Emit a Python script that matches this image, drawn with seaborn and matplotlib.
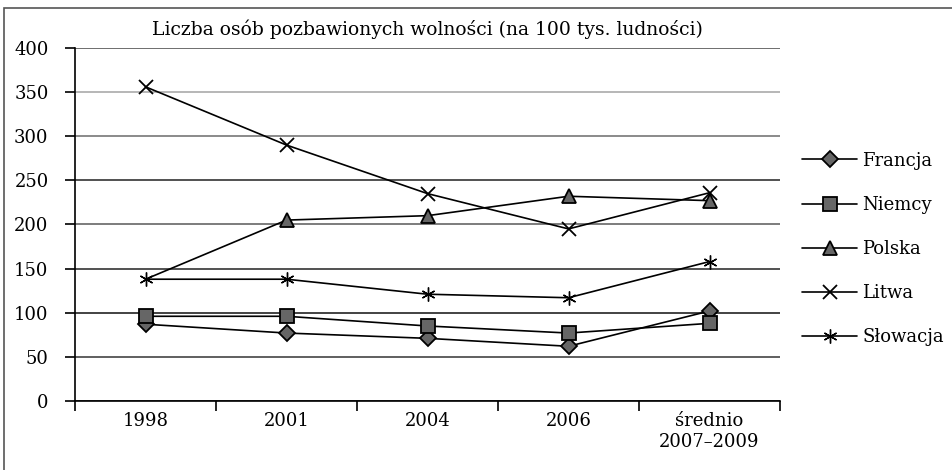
import pandas as pd
import numpy as np
import matplotlib
matplotlib.use('Agg')
import matplotlib.pyplot as plt
import seaborn as sns
from matplotlib.patches import Rectangle

# data
okresy = ['1998', '2001', '2004', '2006', 'średnio\n2007–2009']
francja = [87, 77, 71, 62, 102]
niemcy = [96, 96, 85, 77, 88]
polska = [138, 205, 210, 232, 227]
litwa = [356, 290, 235, 195, 236]
slowacja = [138, 138, 121, 117, 158]

kraje = ['Francja', 'Niemcy', 'Polska', 'Litwa', 'Słowacja']
serie = [francja, niemcy, polska, litwa, slowacja]
markery = ['D', 's', '^', 'x', (6, 2, 0)]
rozmiary = [8, 10, 10, 10, 10]

df = pd.DataFrame({
    'okres': okresy * len(kraje),
    'wartosc': sum(serie, []),
    'kraj': np.repeat(kraje, len(okresy)),
})

sns.set_style('white')
plt.rcParams['font.family'] = ['DejaVu Serif']
plt.rcParams['text.color'] = 'black'
plt.rcParams['xtick.color'] = 'black'
plt.rcParams['ytick.color'] = 'black'

fig = plt.figure(figsize=(9.53, 4.70), dpi=100)
ax = fig.add_axes([0.0787, 0.1468, 0.7398, 0.7511])

for kraj, m, ms in zip(kraje, markery, rozmiary):
    sub = df[df['kraj'] == kraj]
    kw = dict(marker=m, markersize=ms, markerfacecolor='#666666',
              markeredgecolor='black', markeredgewidth=1.3)
    if kraj == 'Słowacja':
        kw['markeredgewidth'] = 1.0
    if kraj == 'Polska':
        kw['markevery'] = [1, 2, 3, 4]
    sns.lineplot(data=sub, x='okres', y='wartosc', ax=ax, color='black',
                 linewidth=1.2, sort=False, label=kraj, **kw)

ax.set_xlim(-0.5, 4.5)
ax.set_ylim(0, 400)
ax.set_yticks(range(0, 401, 50))
ax.set_xticks(range(5))
ax.set_xticklabels(okresy, fontsize=13)
ax.set_xticks(np.arange(-0.5, 4.6, 1), minor=True)
ax.tick_params(axis='x', which='major', bottom=False, length=0, pad=8)
ax.tick_params(axis='x', which='minor', bottom=True, length=7, width=1.2, direction='out')
ax.tick_params(axis='y', left=True, length=7, width=1.2, direction='out', labelsize=13, pad=12)
ax.set_xlabel('')
ax.set_ylabel('')

ax.yaxis.grid(True)
kolory_siatki = ['#222222', '#444444', '#222222', '#333333', '#666666', '#333333', '#777777', '#aaaaaa', '#555555']
for gl, c in zip(ax.get_ygridlines(), kolory_siatki):
    gl.set_color(c)
    gl.set_linewidth(1.2)

for s in ['top', 'right']:
    ax.spines[s].set_visible(False)
for s in ['left', 'bottom']:
    ax.spines[s].set_color('black')
    ax.spines[s].set_linewidth(1.2)

ax.set_title('Liczba osób pozbawionych wolności (na 100 tys. ludności)', fontsize=13.5, pad=9)

ax.legend_.remove()
h, l = ax.get_legend_handles_labels()
fig.legend(h, l, loc='center left', bbox_to_anchor=(0.825, 0.47), frameon=False,
           fontsize=13, handlelength=3.0, handletextpad=0.3, labelspacing=1.45)

fig.patches.append(Rectangle((4 / 953, -0.1), 1.2, 0.1 + 462 / 470, transform=fig.transFigure,
                             fill=False, edgecolor='#555555', linewidth=1.2))

plt.savefig('out.png', dpi=100)
